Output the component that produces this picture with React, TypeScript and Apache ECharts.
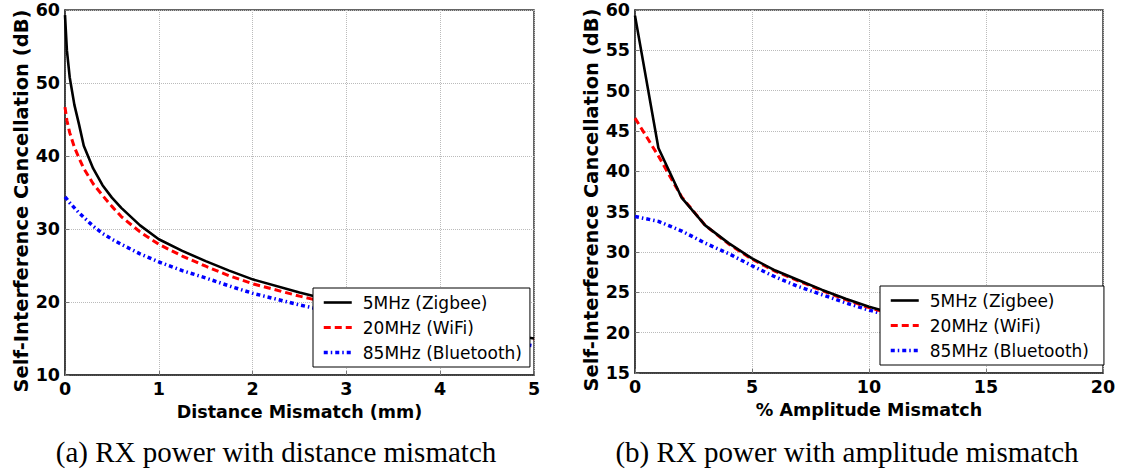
import React, { useEffect, useRef } from "react";
import * as echarts from "echarts";

// ---- Data: (a) distance mismatch ----
const distX = [0, 0.02, 0.05, 0.1, 0.15, 0.2, 0.3, 0.4, 0.5, 0.6, 0.8, 1, 1.25, 1.5, 1.75, 2, 2.5, 3, 3.5, 4, 4.5, 5];
const distZigbee = [59.3, 54.5, 50.8, 47.0, 44.3, 41.4, 38.3, 36.0, 34.3, 32.9, 30.5, 28.6, 27.0, 25.6, 24.3, 23.1, 21.3, 19.7, 18.3, 17.1, 16.0, 15.0];
const distWifi = [46.7, 44.9, 43.2, 41.2, 39.7, 38.3, 36.2, 34.6, 33.1, 31.7, 29.6, 27.9, 26.3, 24.9, 23.6, 22.5, 20.8, 19.3, 18.0, 16.9, 15.9, 14.9];
const distBluetooth = [34.4, 34.1, 33.6, 32.9, 32.2, 31.6, 30.4, 29.4, 28.6, 27.9, 26.6, 25.5, 24.3, 23.3, 22.2, 21.2, 19.6, 18.2, 17.0, 15.9, 14.9, 14.0];

// ---- Data: (b) amplitude mismatch ----
const ampX = [0, 1, 2, 3, 4, 5, 6, 7, 8, 9, 10, 11, 12, 13, 14, 15, 16, 17, 18, 19, 20];
const ampZigbee = [59.3, 42.9, 36.7, 33.3, 31.1, 29.2, 27.7, 26.5, 25.3, 24.2, 23.2, 22.4, 21.7, 21.0, 20.4, 19.8, 19.3, 18.8, 18.3, 17.9, 17.5];
const ampWifi = [46.6, 41.9, 36.8, 33.3, 31.0, 29.1, 27.6, 26.4, 25.2, 24.1, 23.1, 22.3, 21.6, 20.9, 20.3, 19.7, 19.2, 18.7, 18.2, 17.8, 17.4];
const ampBluetooth = [34.4, 33.8, 32.6, 31.1, 29.8, 28.3, 26.9, 25.7, 24.7, 23.7, 22.8, 22.0, 21.3, 20.6, 20.0, 19.4, 18.9, 18.4, 17.9, 17.5, 17.1];

const seriesNames = ["5MHz (Zigbee)", "20MHz (WiFi)", "85MHz (Bluetooth)"];
const captionA = "(a) RX power with distance mismatch";
const captionB = "(b) RX power with amplitude mismatch";
const yTitle = "Self-Interference Cancellation (dB)";
const xTitleA = "Distance Mismatch (mm)";
const xTitleB = "% Amplitude Mismatch";

const SANS = "DejaVu Sans";

function pairs(xs: number[], ys: number[]) {
  return xs.map((x, i) => [x, ys[i]]);
}

const lineStyles = [
  { color: "#000000", width: 2.6, type: "solid" as any },
  { color: "#ff0000", width: 3, type: [7, 4] as any },
  { color: "#0000ff", width: 3.5, type: [4, 3, 1.5, 3] as any },
];

export default function App() {
  const ref = useRef<HTMLDivElement>(null);
  useEffect(() => {
    if (!ref.current) return;
    const chart = echarts.init(ref.current, undefined, { renderer: "svg" });
    const axisLabel = { fontFamily: SANS, fontWeight: "bold", fontSize: 17.5, color: "#000" };
    const nameStyle = { fontFamily: SANS, fontWeight: "bold", fontSize: 17.5, color: "#000" };
    const splitLine = { show: true, lineStyle: { color: "#bbb", type: "dotted", width: 1 } };
    const axisLine = { show: true, lineStyle: { color: "#333", width: 1.5 } };
    const axisTick = { show: true, inside: true, length: 4, lineStyle: { color: "#777" } };

    const grids = [
      { left: 65, top: 10, width: 469, height: 365, show: true, borderColor: "#333", borderWidth: 1.5, backgroundColor: "#fff" },
      { left: 635, top: 10, width: 468, height: 363, show: true, borderColor: "#333", borderWidth: 1.5, backgroundColor: "#fff" },
    ];

    const dataSets = [
      [distZigbee, distWifi, distBluetooth],
      [ampZigbee, ampWifi, ampBluetooth],
    ];
    const xsSets = [distX, ampX];

    const series: any[] = [];
    for (let g = 0; g < 2; g++) {
      for (let s = 0; s < 3; s++) {
        series.push({
          type: "line",
          name: seriesNames[s],
          xAxisIndex: g,
          yAxisIndex: g,
          data: pairs(xsSets[g], dataSets[g][s]),
          symbol: "none",
          showSymbol: false,
          smooth: false,
          lineStyle: lineStyles[s],
          itemStyle: { color: lineStyles[s].color },
          z: 5 - s,
        });
      }
    }

    const legendBase = {
      orient: "vertical",
      data: seriesNames,
      itemWidth: 28,
      itemHeight: 14,
      itemGap: 8,
      borderColor: "#000",
      borderWidth: 1,
      backgroundColor: "#fff",
      borderRadius: 0,
      selectedMode: false,
      itemStyle: { color: "rgba(0,0,0,0)", borderColor: "rgba(0,0,0,0)", borderWidth: 0, opacity: 0 },
      lineStyle: { width: "inherit" },
      textStyle: { fontFamily: SANS, fontSize: 17, color: "#000", padding: [0, 0, 0, 6] },
      z: 10,
    };

    const yTitleText = (x: number, y: number) => ({
      type: "text",
      x,
      y,
      rotation: Math.PI / 2,
      style: {
        text: yTitle,
        font: `bold 19.5px "${SANS}"`,
        fill: "#000",
        align: "center",
        verticalAlign: "middle",
      },
    });

    chart.setOption({
      animation: false,
      backgroundColor: "#fff",
      grid: grids,
      xAxis: [
        {
          type: "value", gridIndex: 0, min: 0, max: 5, interval: 1,
          name: xTitleA, nameLocation: "middle", nameGap: 23, nameTextStyle: nameStyle,
          axisLabel: { ...axisLabel, margin: 5 }, splitLine, axisLine, axisTick,
        },
        {
          type: "value", gridIndex: 1, min: 0, max: 20, interval: 5,
          name: xTitleB, nameLocation: "middle", nameGap: 23, nameTextStyle: nameStyle,
          axisLabel: { ...axisLabel, margin: 5 }, splitLine, axisLine, axisTick,
        },
      ],
      yAxis: [
        {
          type: "value", gridIndex: 0, min: 10, max: 60, interval: 10,
          axisLabel: { ...axisLabel, margin: 5 }, splitLine, axisLine, axisTick,
        },
        {
          type: "value", gridIndex: 1, min: 15, max: 60, interval: 5,
          axisLabel: { ...axisLabel, margin: 5 }, splitLine, axisLine, axisTick,
        },
      ],
      legend: [
        { ...legendBase, left: 313, top: 288, padding: [6, 8, 6, 9] },
        { ...legendBase, left: 880, top: 286, padding: [6, 15, 6, 9] },
      ],
      series,
      graphic: [
        yTitleText(21, 201),
        yTitleText(591, 200),
        {
          type: "text", x: 276, y: 452,
          style: { text: captionA, font: '29px "Liberation Serif"', fill: "#000", align: "center", verticalAlign: "middle" },
        },
        {
          type: "text", x: 847, y: 452,
          style: { text: captionB, font: '29px "Liberation Serif"', fill: "#000", align: "center", verticalAlign: "middle" },
        },
      ],
    });
    return () => chart.dispose();
  }, []);
  return (
    <div
      ref={ref}
      style={{ position: "fixed", left: 0, top: 0, width: 1125, height: 470, background: "#fff" }}
    />
  );
}
